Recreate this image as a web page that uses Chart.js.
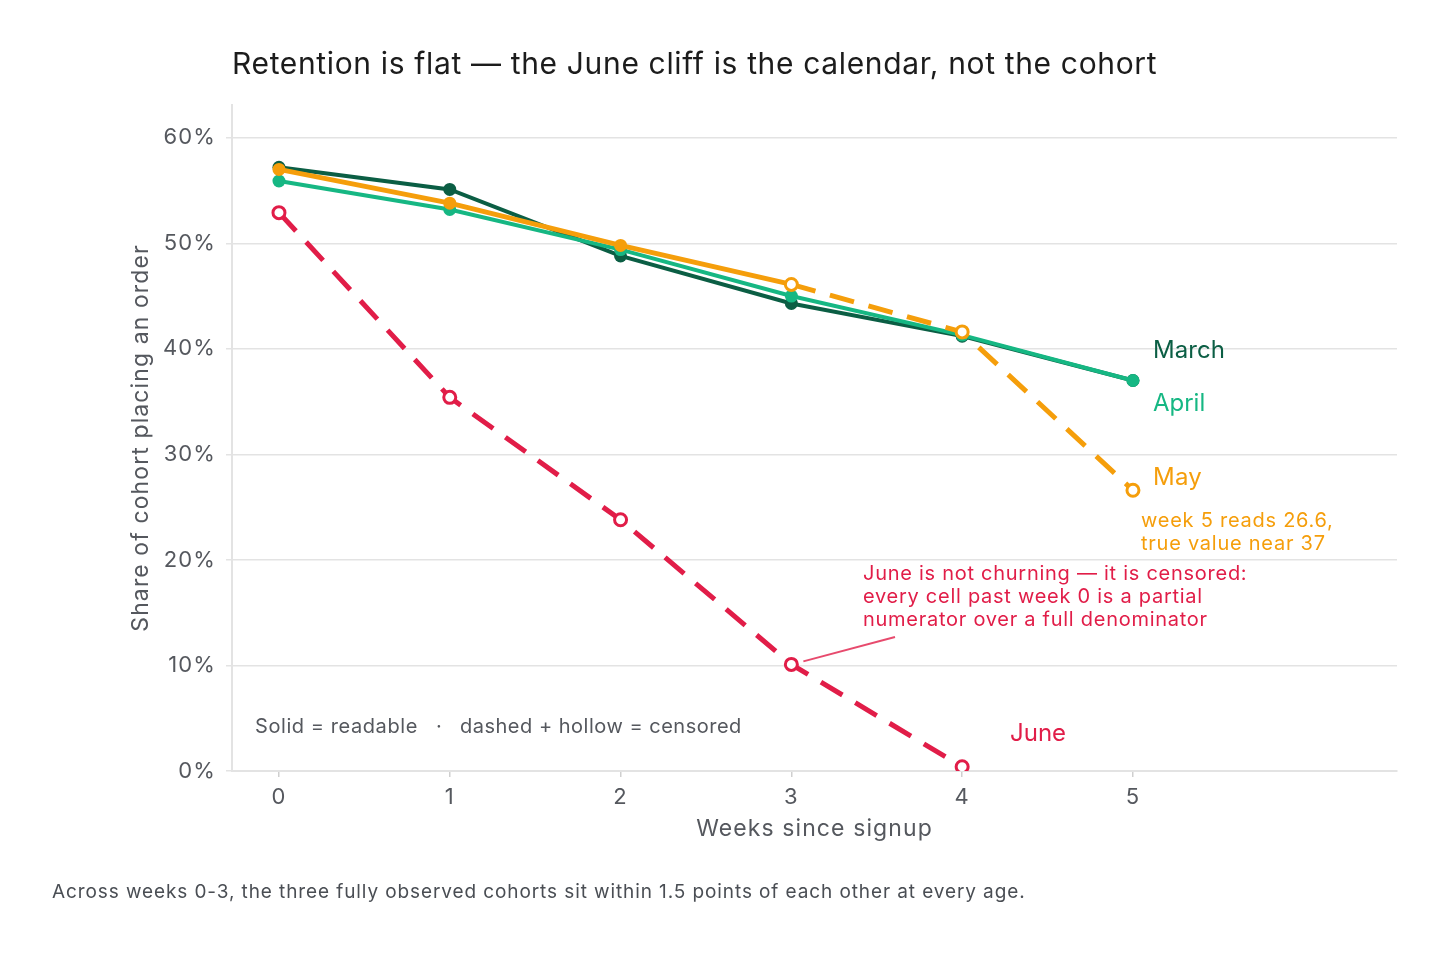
<!DOCTYPE html>
<html>
<head>
<meta charset="utf-8">
<script src="https://cdn.jsdelivr.net/npm/chart.js@4"></script>
<style>
  html, body { margin: 0; padding: 0; background: #fff; }
  #wrap { width: 1448px; height: 955px; position: relative; }
</style>
</head>
<body>
<div id="wrap"><canvas id="chart"></canvas></div>
<script>
// Cohort retention, share placing an order (%) by weeks since signup
const weeks = [0, 1, 2, 3, 4, 5];
const marchValues = [57.2, 55.1, 48.8, 44.3, 41.2, 37.0];
const aprilValues = [55.9, 53.2, 49.4, 45.0, 41.3, 37.0];
const mayValues   = [57.0, 53.8, 49.8, 46.1, 41.6, 26.6];
const juneValues  = [52.9, 35.4, 23.8, 10.1, 0.4];
const yTicks = [0, 10, 20, 30, 40, 50, 60];

// index from which a cohort's cells are censored (dashed + hollow)
const mayCensoredFrom = 3;
const juneCensoredFrom = 0;

const C = {
    march: '#0b5e44',
    april: '#16b783',
    may: '#f59e0b',
    june: '#e11d48',
    text: '#55585e',
    grid: '#e3e3e3'
};
const FONT = "Inter, 'Liberation Sans', Arial, sans-serif";
const TRACKING = '1.1px';

function toPoints(values) {
    return values.map((v, i) => ({ x: weeks[i], y: v }));
}

function cohortDataset(label, values, color, width, censoredFrom, order) {
    const hollow = (i) => censoredFrom !== null && i >= censoredFrom;
    return {
        label: label,
        data: toPoints(values),
        borderColor: color,
        borderWidth: width,
        order: order,
        tension: 0,
        pointRadius: values.map((v, i) => hollow(i) ? 6 : 6.5),
        pointBorderWidth: values.map((v, i) => hollow(i) ? 3 : 0),
        pointBackgroundColor: values.map((v, i) => hollow(i) ? '#ffffff' : color),
        pointBorderColor: color,
        segment: {
            borderDash: (ctx) => (censoredFrom !== null && ctx.p1DataIndex > censoredFrom) ? [25, 15] : undefined
        }
    };
}

// a touch of tracking on the axis text
const tracking = {
    id: 'tracking',
    beforeLayout(chart) { chart.ctx.letterSpacing = TRACKING; },
    beforeDraw(chart) { chart.ctx.letterSpacing = TRACKING; }
};

function label(ctx, text, x, y, size, color, spacing) {
    ctx.font = `${size}px ${FONT}`;
    ctx.fillStyle = color;
    ctx.letterSpacing = spacing + 'px';
    ctx.fillText(text, x, y);
}

const annotations = {
    id: 'annotations',
    afterDraw(chart) {
        const { ctx } = chart;
        const xs = chart.scales.x, ys = chart.scales.y;
        ctx.save();
        ctx.textBaseline = 'middle';
        ctx.textAlign = 'left';

        // Title
        label(ctx, 'Retention is flat \u2014 the June cliff is the calendar, not the cohort', 232, 65, 30, '#1c1c1c', 0.65);

        // Series labels
        const labelX = xs.getPixelForValue(5) + 20;
        label(ctx, 'March', labelX, 351, 24, C.march, 0.1);
        label(ctx, 'April', labelX, 404, 24, C.april, 0.0);
        label(ctx, 'May', labelX, 478, 24, C.may, 0.3);
        label(ctx, 'June', 1010, 734, 24, C.june, 0.0);

        // May note
        label(ctx, 'week 5 reads 26.6,', 1141, 521, 20, C.may, 0.75);
        label(ctx, 'true value near 37', 1141, 544, 20, C.may, 0.75);

        // June note
        label(ctx, 'June is not churning \u2014 it is censored:', 863, 574, 20, C.june, 0.73);
        label(ctx, 'every cell past week 0 is a partial', 863, 597, 20, C.june, 0.73);
        label(ctx, 'numerator over a full denominator', 863, 620, 20, C.june, 0.73);

        // Leader line to June week 3
        const px = xs.getPixelForValue(3), py = ys.getPixelForValue(juneValues[3]);
        ctx.strokeStyle = 'rgba(225, 29, 72, 0.8)';
        ctx.lineWidth = 2;
        ctx.beginPath();
        ctx.moveTo(px + 12, py - 3);
        ctx.lineTo(895, 637);
        ctx.stroke();

        // Key
        label(ctx, 'Solid = readable', 255, 727, 20, C.text, 0.57);
        label(ctx, '\u00b7', 436, 727, 20, C.text, 0);
        label(ctx, 'dashed + hollow = censored', 460, 727, 20, C.text, 0.5);

        // Footnote
        label(ctx, 'Across weeks 0-3, the three fully observed cohorts sit within 1.5 points of each other at every age.', 52, 892, 19, '#4a4e54', 0.9);

        ctx.restore();
    }
};

new Chart(document.getElementById('chart'), {
    type: 'line',
    data: {
        datasets: [
            cohortDataset('March', marchValues, C.march, 4, null, 4),
            cohortDataset('April', aprilValues, C.april, 4, null, 3),
            cohortDataset('May', mayValues, C.may, 5, mayCensoredFrom, 2),
            cohortDataset('June', juneValues, C.june, 5, juneCensoredFrom, 1)
        ]
    },
    options: {
        responsive: true,
        maintainAspectRatio: false,
        animation: false,
        layout: { padding: { top: 105, right: 51, left: 118, bottom: 104 } },
        plugins: {
            legend: { display: false },
            tooltip: { enabled: false }
        },
        scales: {
            x: {
                type: 'linear',
                min: -0.275,
                max: 6.546,
                afterBuildTicks: (scale) => { scale.ticks = weeks.map(v => ({ value: v })); },
                afterFit: (scale) => { scale.height = 80; },
                grid: { drawOnChartArea: false, drawTicks: true, tickLength: 6, color: '#cfcfcf', lineWidth: 1.5 },
                border: { display: true, color: C.grid, width: 2 },
                ticks: { color: C.text, font: { size: 22, family: FONT }, padding: 7 },
                title: {
                    display: true,
                    text: 'Weeks since signup',
                    color: C.text,
                    font: { size: 23, family: FONT },
                    padding: { top: 0, bottom: 8 }
                }
            },
            y: {
                min: 0,
                max: 63.1,
                afterBuildTicks: (scale) => { scale.ticks = yTicks.map(v => ({ value: v })); },
                afterFit: (scale) => { scale.width = 114; },
                grid: { color: C.grid, lineWidth: 1.5, drawTicks: true, tickLength: 6 },
                border: { display: true, color: C.grid, width: 2 },
                ticks: {
                    color: C.text,
                    font: { size: 22, family: FONT },
                    padding: 10,
                    callback: (v) => v + '%'
                },
                title: {
                    display: true,
                    text: 'Share of cohort placing an order',
                    color: C.text,
                    font: { size: 23, family: FONT },
                    padding: { top: 9, bottom: 0 }
                }
            }
        }
    },
    plugins: [tracking, annotations]
});
</script>
</body>
</html>
